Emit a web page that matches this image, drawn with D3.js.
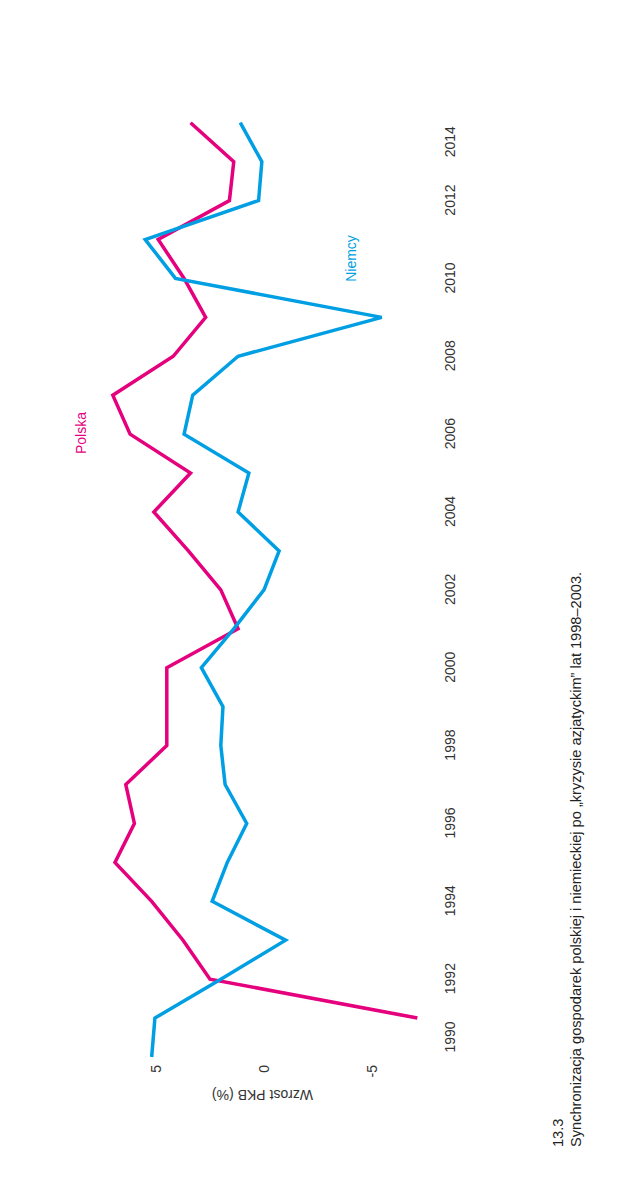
<!DOCTYPE html>
<html><head><meta charset="utf-8">
<script src="https://cdn.jsdelivr.net/npm/d3@7"></script>
<style>
html,body{margin:0;padding:0;background:#fff;}
svg{display:block;font-family:"Liberation Sans",Arial,sans-serif;}
</style></head>
<body>
<svg id="chart" width="631" height="1200"></svg>
<script>
const years = [1990,1991,1992,1993,1994,1995,1996,1997,1998,1999,2000,2001,2002,2003,2004,2005,2006,2007,2008,2009,2010,2011,2012,2013,2014];
const polska = [null,-7.1,2.5,3.75,5.2,6.9,6.0,6.4,4.5,4.5,4.5,1.2,2.0,3.5,5.1,3.4,6.2,7.0,4.2,2.7,3.7,4.9,1.6,1.4,3.4];
const niemcy = [5.2,5.05,2.0,-1.0,2.4,1.7,0.8,1.8,2.0,1.9,2.9,1.4,0.0,-0.7,1.2,0.7,3.7,3.3,1.2,-5.45,4.1,5.5,0.25,0.1,1.1];
const yearTicks = [1990,1992,1994,1996,1998,2000,2002,2004,2006,2008,2010,2012,2014];
const valueTicks = [-5,0,5];
const seriesNames = ["Polska","Niemcy"];
const axisTitle = "Wzrost PKB (%)";
const captionNumber = "13.3";
const captionText = "Synchronizacja gospodarek polskiej i niemieckiej po \u201Ekryzysie azjatyckim\u201D lat 1998\u20132003.";

const colors = {Polska:"#e5007d", Niemcy:"#009fe3"};

const svg = d3.select("#chart");
// whole chart is drawn as a normal chart and rotated -90deg
const g = svg.append("g").attr("transform","translate(0,1200) rotate(-90)");

const x = d3.scaleLinear().domain([1990,2014]).range([143,1077.3]);
const y = d3.scaleLinear().domain([-5,5]).range([372,156]);

// year axis
const xa = g.append("g").attr("transform","translate(0,455)")
  .call(d3.axisBottom(x).tickValues(yearTicks).tickFormat(d3.format("d")).tickSize(0));
xa.select(".domain").remove();
xa.selectAll("text").attr("y",0).attr("dy",0)
  .attr("font-family","'Liberation Sans',Arial,sans-serif").attr("font-size",14).attr("fill","#333")
  .each(function(d){
    const t=d3.select(this);
    if(d===yearTicks[0]) t.attr("text-anchor","start").attr("dx",4);
    if(d===yearTicks[yearTicks.length-1]) t.attr("text-anchor","end").attr("dx",-4);
  });

// value axis
const ya = g.append("g").attr("transform","translate(135,0)")
  .call(d3.axisLeft(y).tickValues(valueTicks).tickFormat(d=>String(d)).tickSize(0).tickPadding(0));
ya.select(".domain").remove();
ya.selectAll("text").attr("font-family","'Liberation Sans',Arial,sans-serif").attr("font-size",14).attr("fill","#333");

// axis title (rotated -90 in the chart frame)
g.append("text").attr("transform","translate(110,262.5) rotate(-90)")
  .attr("text-anchor","middle").attr("font-size",14).attr("fill","#333").text(axisTitle);

// lines
const line = d3.line().defined(d=>d[1]!==null).x(d=>x(d[0])).y(d=>y(d[1]));
const series = [
  {name:seriesNames[0], values:polska},
  {name:seriesNames[1], values:niemcy}
];
g.selectAll("path.series").data(series).join("path").attr("class","series")
  .attr("d",s=>line(years.map((yr,i)=>[yr,s.values[i]])))
  .attr("fill","none").attr("stroke",s=>colors[s.name]).attr("stroke-width",3.5)
  .attr("stroke-linejoin","miter");

// series labels
g.append("text").attr("x",767).attr("y",86).attr("text-anchor","middle")
  .attr("font-size",14).attr("fill",colors.Polska).text(seriesNames[0]);
g.append("text").attr("x",941.5).attr("y",356).attr("text-anchor","middle")
  .attr("font-size",14).attr("fill",colors.Niemcy).text(seriesNames[1]);

// caption
g.append("text").attr("x",53).attr("y",563).attr("font-size",14.6).attr("fill","#222").text(captionNumber);
g.append("text").attr("x",53).attr("y",581).attr("font-size",14.6).attr("fill","#222").text(captionText);
</script>
</body></html>
